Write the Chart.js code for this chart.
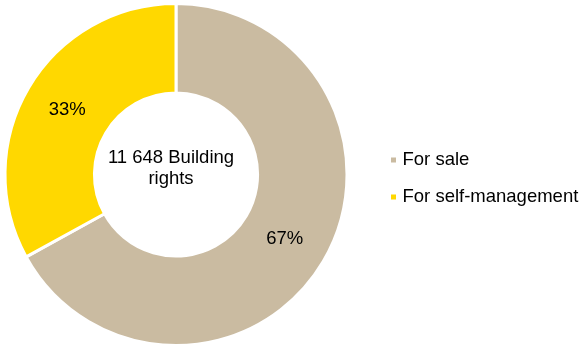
<!DOCTYPE html>
<html>
<head>
<meta charset="utf-8">
<script src="https://cdn.jsdelivr.net/npm/chart.js@4/dist/chart.umd.min.js"></script>
<style>
  html, body { margin: 0; padding: 0; background: #fff; }
  #wrap { width: 582px; height: 347px; position: relative; }
</style>
</head>
<body>
<div id="wrap"><canvas id="c" width="582" height="347"></canvas></div>
<script>
// Building rights split by intended use (share, %)
const categories = ['For sale', 'For self-management'];
const shares = [67, 33];
const sliceColors = ['#CABBA1', '#FFD800'];
const centerLines = ['11 648 Building', 'rights'];

const FONT = '"Liberation Sans", Arial, Helvetica, sans-serif';
const FONT_SIZE = 18.5;

// Percentage labels in the middle of each ring segment
const sliceLabels = {
  id: 'sliceLabels',
  afterDatasetsDraw(chart) {
    const ctx = chart.ctx;
    const meta = chart.getDatasetMeta(0);
    const values = chart.data.datasets[0].data;
    const total = values.reduce((a, b) => a + b, 0);
    ctx.save();
    ctx.font = FONT_SIZE + 'px ' + FONT;
    ctx.fillStyle = '#000';
    ctx.textAlign = 'center';
    ctx.textBaseline = 'middle';
    meta.data.forEach((arc, i) => {
      const p = arc.tooltipPosition();
      ctx.fillText(Math.round(values[i] / total * 100) + '%', p.x, p.y);
    });
    ctx.restore();
  }
};

// Caption inside the hole
const centerText = {
  id: 'centerText',
  afterDraw(chart) {
    const ctx = chart.ctx;
    const arc = chart.getDatasetMeta(0).data[0];
    ctx.save();
    ctx.font = FONT_SIZE + 'px ' + FONT;
    ctx.fillStyle = '#000';
    ctx.textAlign = 'center';
    ctx.textBaseline = 'middle';
    const lh = 20.5;
    const y0 = arc.y - lh * (centerLines.length - 1) / 2 - 6;
    centerLines.forEach((t, i) => ctx.fillText(t, arc.x - 5, y0 + i * lh));
    ctx.restore();
  }
};

// Legend to the right of the ring: small square marker + label
const sideLegend = {
  id: 'sideLegend',
  afterDraw(chart) {
    const ctx = chart.ctx;
    const ds = chart.data.datasets[0];
    const x = chart.chartArea.right + 39;
    const rowGap = 37;
    const firstBaseline = 165;
    ctx.save();
    ctx.font = FONT_SIZE + 'px ' + FONT;
    ctx.textAlign = 'left';
    ctx.textBaseline = 'alphabetic';
    chart.data.labels.forEach((label, i) => {
      const base = firstBaseline + i * rowGap;
      ctx.fillStyle = ds.backgroundColor[i];
      ctx.fillRect(x, base - 7.5, 5, 5);
      ctx.fillStyle = '#000';
      ctx.fillText(label, x + 11.5, base);
    });
    ctx.restore();
  }
};

new Chart(document.getElementById('c'), {
  type: 'doughnut',
  data: {
    labels: categories,
    datasets: [{
      data: shares,
      backgroundColor: sliceColors,
      borderColor: '#ffffff',
      borderWidth: 3,
      hoverOffset: 0
    }]
  },
  options: {
    responsive: false,
    animation: false,
    events: [],
    cutout: '47.7%',
    rotation: 0,
    layout: { padding: { top: 2, right: 230, left: 0, bottom: 0 } },
    plugins: {
      legend: { display: false },
      tooltip: { enabled: false },
      title: { display: false }
    }
  },
  plugins: [sliceLabels, centerText, sideLegend]
});
</script>
</body>
</html>
